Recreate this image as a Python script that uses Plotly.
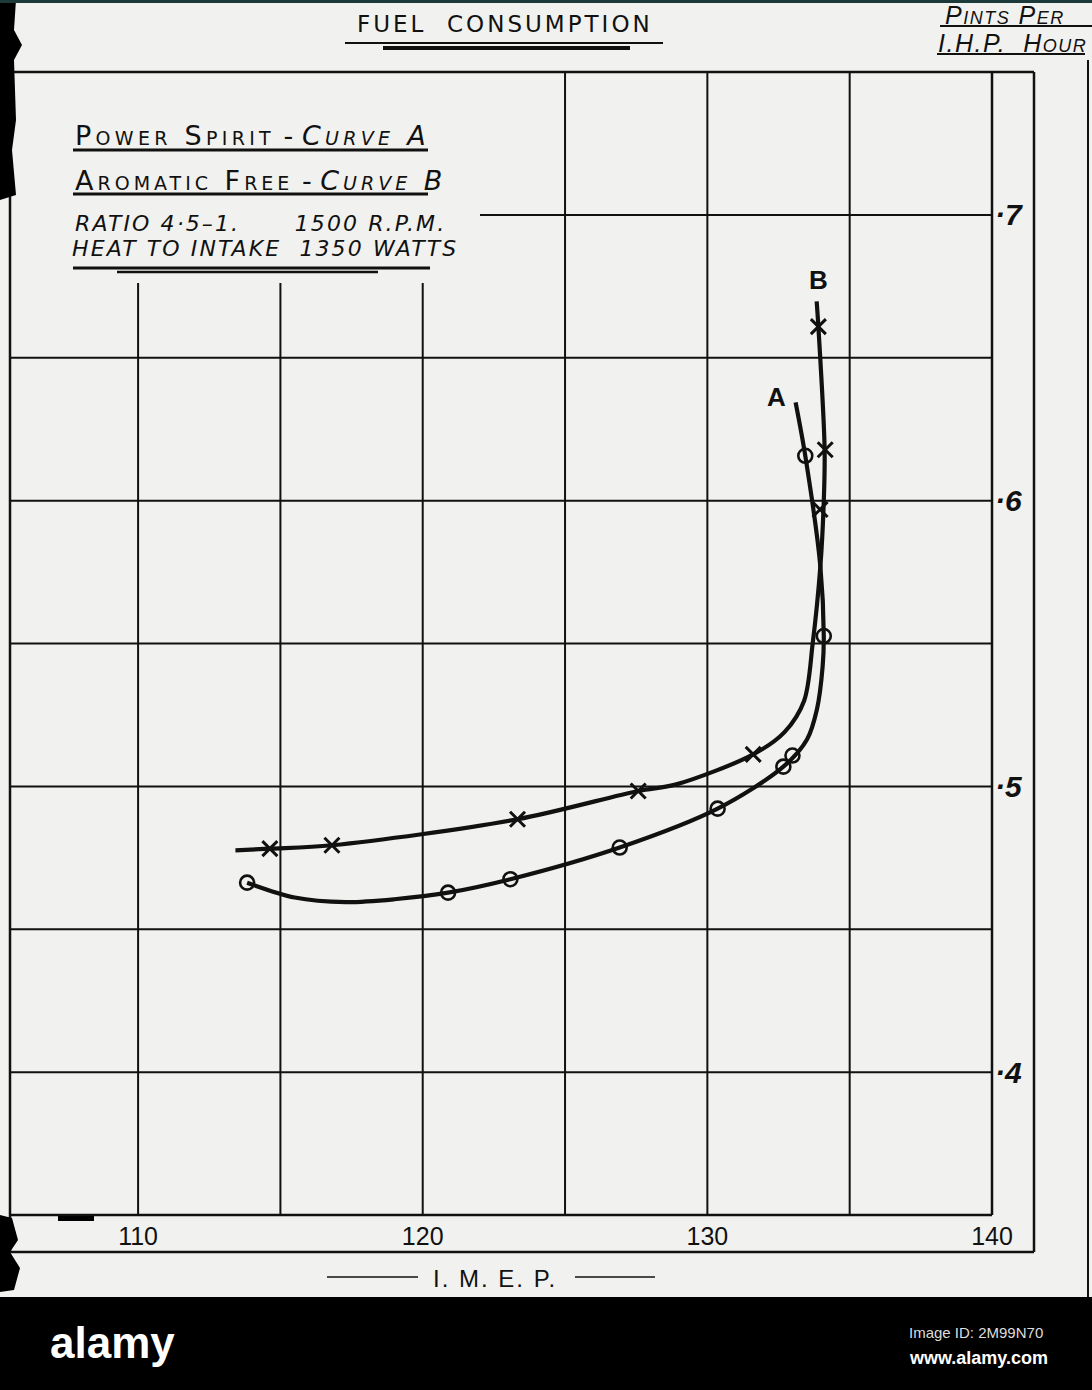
import plotly.graph_objects as go

# ---------------- data ----------------
imep_ticks = [110, 120, 130, 140]
imep_grid = [110, 115, 120, 125, 130, 135]
pints_ticks = [0.4, 0.5, 0.6, 0.7]
pints_ticktext = ["·4", "·5", "·6", "·7"]
pints_grid = [0.4, 0.45, 0.5, 0.55, 0.6, 0.65, 0.7]

# Curve A - Power Spirit (observed points, circles)
a_pts_x = [113.83, 120.89, 123.08, 126.92, 130.36, 132.67, 132.99, 134.09, 133.44]
a_pts_y = [0.4663, 0.4628, 0.4675, 0.4786, 0.4922, 0.5069, 0.5108, 0.5526, 0.6157]
# Curve A - traced drawn line
a_line_x = [113.83, 115.5, 117.3, 119.0, 120.89, 123.08, 126.92, 130.36, 132.67,
            133.5, 133.85, 134.05, 134.09, 133.97, 133.44, 133.1]
a_line_y = [0.4663, 0.4611, 0.4595, 0.4605, 0.4628, 0.4675, 0.4786, 0.4922, 0.5069,
            0.5164, 0.527, 0.542, 0.5526, 0.577, 0.6157, 0.6344]

# Curve B - Aromatic Free (observed points, crosses)
b_pts_x = [114.63, 116.81, 123.33, 127.57, 131.61, 133.96, 134.14, 133.90]
b_pts_y = [0.4782, 0.4794, 0.4885, 0.4984, 0.5112, 0.5969, 0.6178, 0.6609]
# Curve B - traced drawn line
b_line_x = [113.42, 114.63, 116.81, 123.33, 127.57, 128.91, 131.61, 132.71, 133.40,
            133.70, 133.97, 134.08, 134.12, 133.90, 133.84]
b_line_y = [0.4776, 0.4782, 0.4794, 0.4885, 0.4984, 0.5007, 0.5112, 0.519, 0.530,
            0.55, 0.577, 0.597, 0.6178, 0.6609, 0.6697]

# ---------------- layout geometry (pixels) ----------------
W, H = 1092, 1390
PL, PR, PT, PB = 10, 992, 72, 1215   # plot area edges in px
INK = "#111111"
PAPER = "#f1f1ef"
FONT = "DejaVu Sans"
FONT2 = "Liberation Sans"


def xp(px):
    return (px - PL) / (PR - PL)


def yp(py):
    return (PB - py) / (PB - PT)


fig = go.Figure()

fig.add_trace(go.Scatter(x=a_line_x, y=a_line_y, mode="lines",
                         line=dict(color=INK, width=4.2, shape="spline", smoothing=0.9),
                         hoverinfo="skip", showlegend=False))
fig.add_trace(go.Scatter(x=b_line_x, y=b_line_y, mode="lines",
                         line=dict(color=INK, width=4.2, shape="spline", smoothing=0.9),
                         hoverinfo="skip", showlegend=False))
fig.add_trace(go.Scatter(x=a_pts_x, y=a_pts_y, mode="markers", name="Curve A",
                         marker=dict(symbol="circle-open", size=14, color=INK,
                                     line=dict(width=2.6, color=INK)),
                         showlegend=False))
fig.add_trace(go.Scatter(x=b_pts_x, y=b_pts_y, mode="markers", name="Curve B",
                         marker=dict(symbol="x-thin-open", size=15, color=INK,
                                     line=dict(width=3, color=INK)),
                         showlegend=False))

shapes = []
line_style = dict(color=INK, width=2)

# grid lines (vertical)
for gx in imep_grid:
    top = yp(283) if gx <= 120 else 1
    shapes.append(dict(type="line", xref="x", yref="paper", x0=gx, x1=gx, y0=0, y1=top,
                       line=line_style, layer="below"))
# grid lines (horizontal)
for gy in pints_grid:
    left = xp(480) if gy >= 0.7 else 0
    shapes.append(dict(type="line", xref="paper", yref="y", x0=left, x1=1, y0=gy, y1=gy,
                       line=line_style, layer="below"))

# plot frame and outer frame
frame = dict(color=INK, width=2.5)
shapes += [
    dict(type="line", xref="paper", yref="paper", x0=0, x1=xp(1034), y0=1, y1=1, line=frame),
    dict(type="line", xref="paper", yref="paper", x0=0, x1=0, y0=1, y1=yp(1252), line=frame),
    dict(type="line", xref="paper", yref="paper", x0=1, x1=1, y0=0, y1=1, line=frame),
    dict(type="line", xref="paper", yref="paper", x0=0, x1=1, y0=0, y1=0, line=frame),
    dict(type="line", xref="paper", yref="paper", x0=xp(1034), x1=xp(1034), y0=1, y1=yp(1252), line=frame),
    dict(type="line", xref="paper", yref="paper", x0=0, x1=xp(1034), y0=yp(1252), y1=yp(1252), line=frame),
    # slide edge on the right
    dict(type="line", xref="paper", yref="paper", x0=xp(1088), x1=xp(1088), y0=yp(60), y1=yp(1297),
         line=dict(color=INK, width=2)),
]


def hline(x0, x1, y, w=2):
    return dict(type="line", xref="paper", yref="paper", x0=xp(x0), x1=xp(x1), y0=yp(y), y1=yp(y),
                line=dict(color=INK, width=w))


# underlines
shapes += [
    hline(345, 663, 43, 2), hline(383, 630, 48, 4),            # title
    hline(940, 1092, 26, 2), hline(937, 1085, 54, 2),          # pints per / ihp hour
    hline(73, 428, 150, 2.8), hline(73, 428, 194, 2.8),        # legend lines
    hline(73, 430, 268, 2.8), hline(117, 378, 272, 2.5),
    hline(327, 418, 1277, 1.5), hline(575, 655, 1277, 1.5),    # I.M.E.P. dashes
]


def path_px(points):
    return "M " + " L ".join(f"{xp(x):.5f},{yp(y):.5f}" for x, y in points) + " Z"


# ragged black left edge, top strip and bottom black band
shapes += [
    dict(type="path", xref="paper", yref="paper",
         path=path_px([(0, 0), (16, 0), (14, 30), (22, 45), (14, 60), (16, 120), (12, 150),
                        (16, 195), (0, 200)]),
         fillcolor="#000000", line=dict(width=0)),
    dict(type="path", xref="paper", yref="paper",
         path=path_px([(0, 1215), (12, 1218), (18, 1240), (10, 1252), (20, 1268), (14, 1290), (0, 1292)]),
         fillcolor="#000000", line=dict(width=0)),
    dict(type="rect", xref="paper", yref="paper", x0=xp(58), x1=xp(94), y0=yp(1216), y1=yp(1221),
         fillcolor="#000000", line=dict(width=0)),
    dict(type="rect", xref="paper", yref="paper", x0=xp(0), x1=xp(W), y0=yp(0), y1=yp(3),
         fillcolor="#1c3a3a", line=dict(width=0)),
    dict(type="rect", xref="paper", yref="paper", x0=xp(0), x1=xp(W), y0=yp(1297), y1=yp(H),
         fillcolor="#000000", line=dict(width=0)),
]

ann = []


def text(px, py, s, size, anchor="left", style="normal", weight="normal", variant="normal",
         color=INK, family=FONT, yanchor="middle"):
    ann.append(dict(xref="paper", yref="paper", x=xp(px), y=yp(py), text=s, showarrow=False,
                    xanchor=anchor, yanchor=yanchor,
                    font=dict(family=family, size=size, color=color, style=style,
                              weight=weight, variant=variant)))


def spaced(s, px):
    return f"<span style='letter-spacing:{px}px'>{s}</span>"


text(505, 24, spaced("FUEL  CONSUMPTION", 3), 23, anchor="center")
text(943, 15, spaced("Pints Per", 1.5), 25, style="italic", variant="small-caps", family=FONT2)
text(936, 43, spaced("I.H.P.  Hour", 1.5), 25, style="italic", variant="small-caps", family=FONT2)

text(73, 135, spaced("Power Spirit", 4.3) + " - " + spaced("<i>Curve A</i>", 4.3), 27, variant="small-caps")
text(73, 181, spaced("Aromatic Free", 4.0) + " - " + spaced("<i>Curve B</i>", 4.0), 27, variant="small-caps")
text(73, 224, spaced("<i>RATIO 4·5–1.      1500 R.P.M.</i>", 2.1), 22, family=FONT)
text(70, 249, spaced("<i>HEAT TO INTAKE  1350 WATTS</i>", 2.1), 22, family=FONT)

text(495, 1278, spaced("I. M. E. P.", 2), 24, anchor="center", family=FONT2)

# curve labels next to the line ends
ann.append(dict(xref="x", yref="y", x=b_line_x[-1] + 0.08, y=b_line_y[-1] + 0.0015, text="B",
                showarrow=False, xanchor="center", yanchor="bottom",
                font=dict(family=FONT2, size=26, color=INK, weight="bold")))
ann.append(dict(xref="x", yref="y", x=a_line_x[-1] - 0.28, y=a_line_y[-1] - 0.004, text="A",
                showarrow=False, xanchor="right", yanchor="bottom",
                font=dict(family=FONT2, size=26, color=INK, weight="bold")))

# watermark band
text(48, 1342, "alamy", 44, color="#ffffff", weight="bold", family=FONT2)
text(907, 1332, "Image ID: 2M99N70", 15, color="#dddddd", family=FONT2)
text(907, 1358, "www.alamy.com", 18, color="#ffffff", weight="bold", family=FONT2)

fig.update_layout(
    width=W, height=H,
    margin=dict(l=PL, r=W - PR, t=PT, b=H - PB, pad=0),
    paper_bgcolor=PAPER, plot_bgcolor=PAPER,
    shapes=shapes, annotations=ann,
    showlegend=False,
    xaxis=dict(range=[105.5, 140], tickvals=imep_ticks, ticktext=[str(v) for v in imep_ticks],
               showgrid=False, zeroline=False, showline=False, ticks="",
               ticklabelstandoff=4,
               tickfont=dict(family=FONT2, size=25, color=INK)),
    yaxis=dict(range=[0.35, 0.75], side="right", tickvals=pints_ticks, ticktext=pints_ticktext,
               showgrid=False, zeroline=False, showline=False, ticks="",
               ticklabelstandoff=2,
               tickfont=dict(family=FONT2, size=30, color=INK, weight="bold", style="italic")),
)

fig.write_html("out.html", config={"displayModeBar": False},
               post_script="document.body.style.margin='0';")
